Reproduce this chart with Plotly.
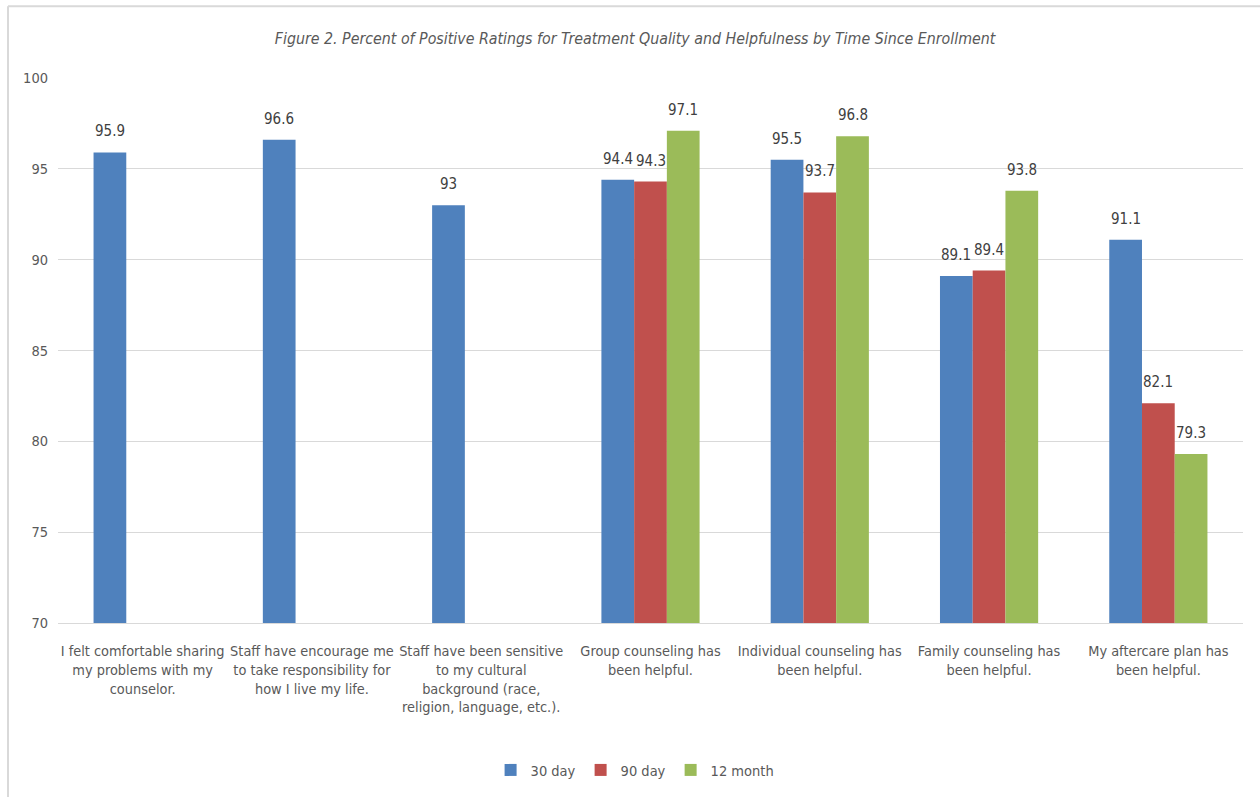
import plotly.graph_objects as go

categories = [
    "I felt comfortable sharing<br>my problems with my<br>counselor.",
    "Staff have encourage me<br>to take responsibility for<br>how I live my life.",
    "Staff have been sensitive<br>to my cultural<br>background (race,<br>religion, language, etc.).",
    "Group counseling has<br>been helpful.",
    "Individual counseling has<br>been helpful.",
    "Family counseling has<br>been helpful.",
    "My aftercare plan has<br>been helpful.",
]
day30 = [95.9, 96.6, 93, 94.4, 95.5, 89.1, 91.1]
day90 = [None, None, None, 94.3, 93.7, 89.4, 82.1]
month12 = [None, None, None, 97.1, 96.8, 93.8, 79.3]

series_names = ["30 day", "90 day", "12 month"]
colors = ["#4F81BD", "#C0504D", "#9BBB59"]

FONT = "Liberation Sans Narrow, DejaVu Sans Condensed, Arial Narrow, sans-serif"
TEXT_GRAY = "#595959"

W, H = 1260, 797
ML, MR, MT, MB = 58, 17, 78, 173
pw, ph = W - ML - MR, H - MT - MB
BARGAP = 0.42
bar_px = pw / len(categories) * (1 - BARGAP) / len(series_names)


def px_to_paper_x(px):
    return (px - ML) / pw


def px_to_paper_y(py):
    return (H - MB - py) / ph


def fmt(v):
    return str(int(v)) if float(v).is_integer() else f"{v:g}"


fig = go.Figure()
annotations = []
all_series = [day30, day90, month12]
for i, (name, vals, col) in enumerate(zip(series_names, all_series, colors)):
    fig.add_trace(go.Bar(
        x=categories,
        y=vals,
        name=name,
        marker=dict(color=col, line=dict(width=0)),
    ))
    # value labels above each bar
    for cat, v in zip(categories, vals):
        if v is None:
            continue
        annotations.append(dict(
            x=cat, y=v, xref="x", yref="y",
            text=fmt(v), showarrow=False,
            xshift=(i - 1) * bar_px, yshift=21,
            yanchor="middle", xanchor="center",
            font=dict(family=FONT, size=15, color="#404040"),
        ))

fig.update_layout(
    width=W,
    height=H,
    margin=dict(l=ML, r=MR, t=MT, b=MB),
    paper_bgcolor="white",
    plot_bgcolor="white",
    barmode="group",
    bargap=BARGAP,
    bargroupgap=0,
    font=dict(family=FONT, size=14, color=TEXT_GRAY),
    title=dict(
        text="<i>Figure 2. Percent of Positive Ratings for Treatment Quality and Helpfulness by Time Since Enrollment</i>",
        x=0.504,
        xanchor="center",
        y=1 - 38 / H,
        yanchor="middle",
        yref="container",
        font=dict(family=FONT, size=15.8, color=TEXT_GRAY),
    ),
    xaxis=dict(
        showgrid=False,
        showline=True,
        linecolor="#D9D9D9",
        linewidth=1,
        ticks="",
        tickfont=dict(family=FONT, size=14.4, color=TEXT_GRAY),
        tickangle=0,
        ticklabelstandoff=15,
    ),
    yaxis=dict(
        range=[70, 100],
        dtick=5,
        showgrid=True,
        gridcolor="#D9D9D9",
        gridwidth=1,
        zeroline=False,
        showline=False,
        ticks="",
        tickfont=dict(family=FONT, size=14.5, color=TEXT_GRAY),
        ticklabelstandoff=9,
    ),
    legend=dict(
        orientation="h",
        x=0.487,
        xanchor="center",
        y=px_to_paper_y(770),
        yanchor="middle",
        font=dict(family=FONT, size=14.5, color=TEXT_GRAY),
        itemwidth=30,
        bgcolor="rgba(0,0,0,0)",
    ),
    annotations=annotations,
    showlegend=True,
)

# Outer chart frame (top and left edges)
fig.add_shape(type="line", xref="paper", yref="paper",
              x0=px_to_paper_x(8), x1=px_to_paper_x(1270),
              y0=px_to_paper_y(6), y1=px_to_paper_y(6),
              line=dict(color="#D9D9D9", width=2))
fig.add_shape(type="line", xref="paper", yref="paper",
              x0=px_to_paper_x(8), x1=px_to_paper_x(8),
              y0=px_to_paper_y(6), y1=px_to_paper_y(810),
              line=dict(color="#D9D9D9", width=2))

fig.write_html("out.html")
